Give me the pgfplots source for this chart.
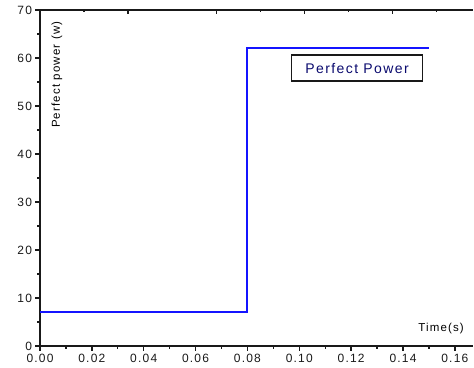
\documentclass[border=0pt]{standalone}
\usepackage{pgfplots}
\pgfplotsset{compat=1.18}
\usepackage{fontspec}
\setmainfont{Liberation Sans}
\newfontfamily\spaced[LetterSpace=10]{Liberation Sans}
\definecolor{axgray}{RGB}{25,25,25}
\definecolor{lblue}{RGB}{20,20,255}
\definecolor{txtblue}{RGB}{10,10,110}
\begin{document}
\begin{tikzpicture}
\useasboundingbox (-40pt,-21pt) rectangle (434pt,346pt);
\begin{axis}[
  at={(0,0)}, anchor=south west,
  scale only axis, width=433pt, height=336pt,
  xmin=0, xmax=0.167, ymin=0, ymax=70,
  axis x line*=bottom, axis y line*=left,
  axis line style={axgray, line width=1.8pt, -},
  xtick={0,0.02,...,0.16},
  minor xtick={0.01,0.03,...,0.15},
  ytick={0,10,...,70},
  minor ytick={5,15,...,65},
  tick align=outside,
  major tick length=4.5pt, minor tick length=2.5pt,
  tick style={axgray, line width=1.5pt},
  minor tick style={axgray, line width=1.3pt},
  xticklabel={\pgfmathprintnumber[fixed,fixed zerofill,precision=2]{\tick}},
  /pgf/number format/assume math mode=true,
  ticklabel style={font=\spaced\fontsize{12}{14}\selectfont, text=black!90},
  scaled x ticks=false,
  clip=false,
]
\addplot[lblue, line width=2pt] coordinates {(0,7) (0.08,7) (0.08,62) (0.15,62)};
\draw[axgray, line width=2pt] (rel axis cs:0,1) -- (rel axis cs:1,1);
\node[draw=axgray, line width=1.6pt, minimum width=131pt, minimum height=26pt, inner sep=0pt,
  text=txtblue, font=\spaced\fontsize{14}{16}\selectfont] at (axis cs:0.1223,57.9) {Perfect Power};
\node[rotate=90, font=\spaced\fontsize{11.5}{13}\selectfont, text=black] at (axis cs:0.00656,56.5) {Perfect power (w)};
\node[font=\spaced\fontsize{11.5}{13}\selectfont, text=black] at (axis cs:0.1547,3.54) {Time(s)};
\end{axis}
\begin{axis}[
  at={(0,0)}, anchor=south west,
  scale only axis, width=433pt, height=336pt,
  xmin=0, xmax=0.167, ymin=0, ymax=70,
  axis x line*=top, axis y line=none,
  axis line style={axgray, line width=2pt, -},
  xtick={0,0.034,0.068,0.102,0.136},
  minor xtick={0.017,0.085,0.119,0.153},
  xticklabels={},
  tick align=inside,
  major tick length=4.5pt, minor tick length=2.5pt,
  tick style={axgray, line width=1.5pt},
  minor tick style={axgray, line width=1.3pt},
]
\end{axis}
\end{tikzpicture}
\end{document}
